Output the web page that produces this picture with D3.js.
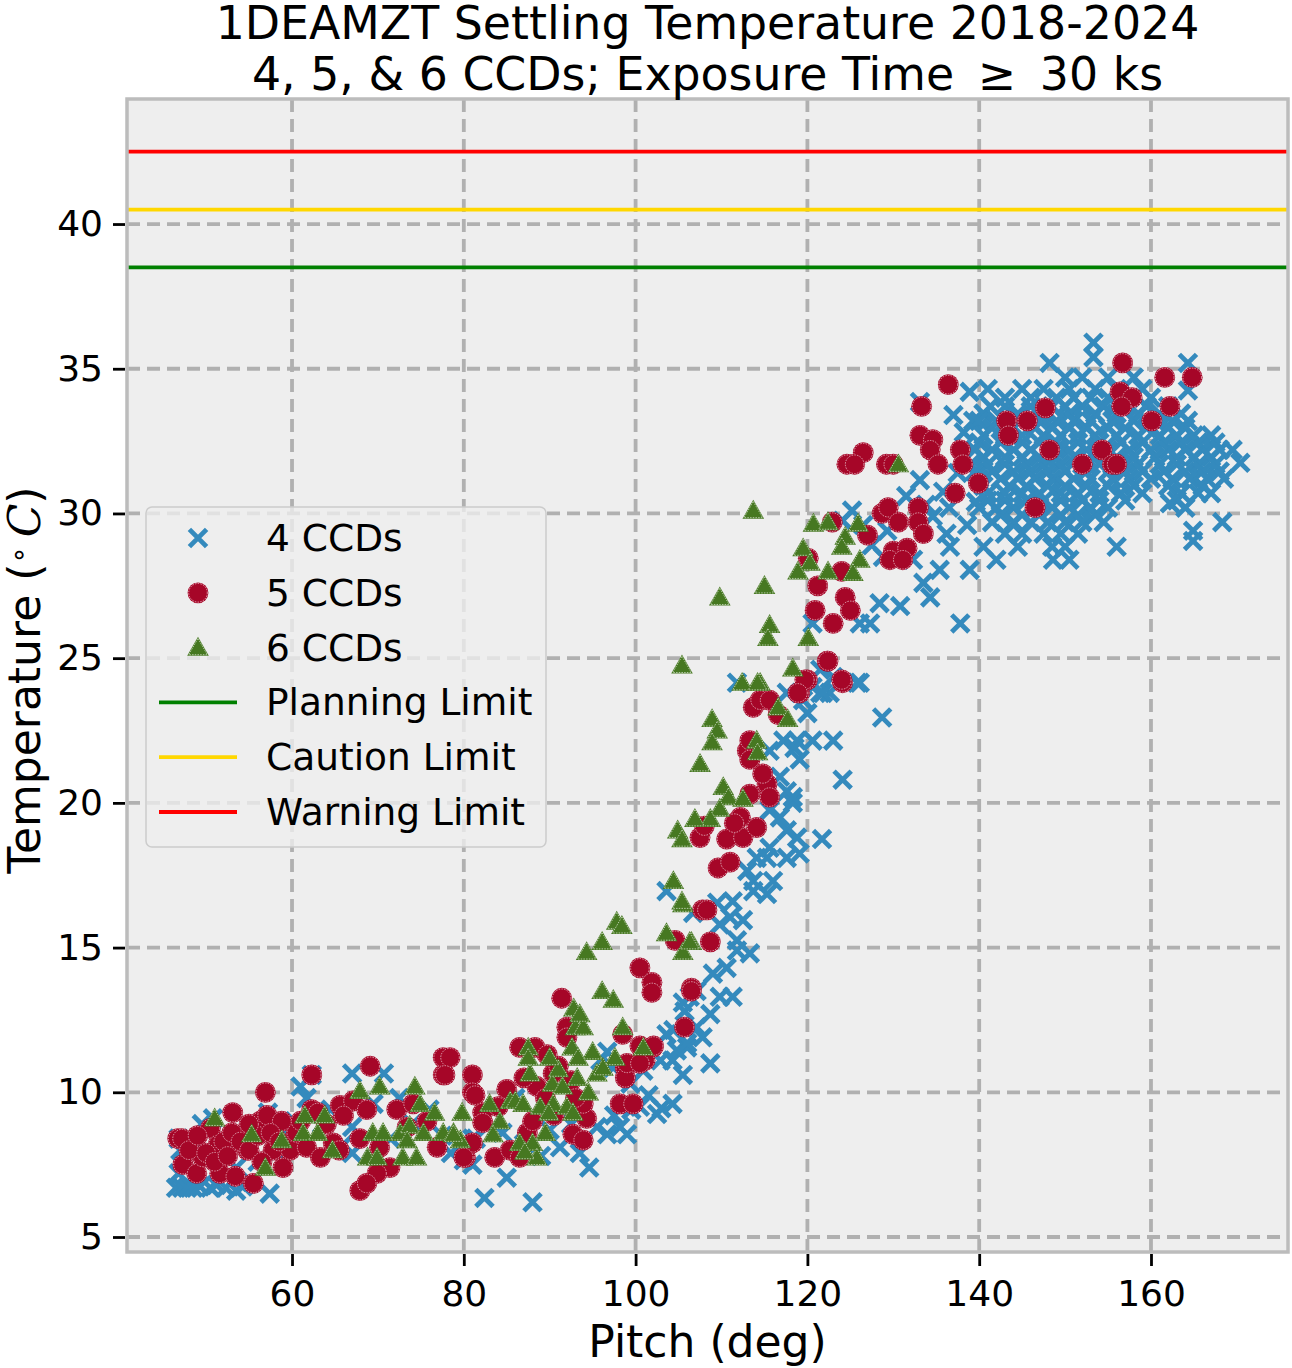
<!DOCTYPE html>
<html><head><meta charset="utf-8">
<script src="https://cdn.jsdelivr.net/npm/d3@7"></script>
<style>body{margin:0;background:#fff}svg{display:block}text{font-family:"DejaVu Sans",sans-serif}</style>
</head><body><svg id="c" width="1292" height="1368"></svg>
<script>
const titleLines = ["1DEAMZT Settling Temperature 2018-2024", "4, 5, & 6 CCDs; Exposure Time \u2009\u2265\u2009 30 ks"];
const xTicks = [60, 80, 100, 120, 140, 160];
const yTicks = [5, 10, 15, 20, 25, 30, 35, 40];
const limitNames = ["Planning Limit", "Caution Limit", "Warning Limit"];
const limitValues = [38.5, 40.5, 42.5];
const seriesNames = ["4 CCDs", "5 CCDs", "6 CCDs"];

const ccd4 = [
[46.5,6.7],[47.2,6.7],[47.8,6.7],[48.5,6.7],[49.3,6.75],[50.5,6.7],[51.2,6.8],[52.3,6.7],[53.5,6.6],[54.3,6.75],[55.3,6.9],[57.4,6.5],
[46.8,7.2],[47.5,7.6],[47,8.0],[46.8,8.4],[48.5,8.3],[50.8,9.1],[49.5,8.9],[52,8.1],[53.5,7.4],[56,7.6],[58.2,7.9],[59.5,8.5],[57.2,9.3],
[60.3,9.0],[61,10.2],[62.3,10.6],[61.7,9.8],[63.5,8.9],[64.5,9.4],[66,8.2],[67,8.8],[67,7.9],[67,10.65],[70.7,10.65],[69.5,9.6],[71.5,8.4],
[72.5,9.8],[74,8.9],[76,9.4],[77.5,8.5],[78.5,7.9],[80,7.65],[81,8.4],[81,7.5],[81.4,8.4],[82.4,6.35],[85,7.05],[88,6.2],[84.5,8.6],[86,9.8],
[87,8.2],[89,7.8],[90,8.7],[91.2,8.1],[92.5,8.9],[93.5,7.9],[94.6,7.4],[95.5,8.8],[96.7,8.55],[97.5,9.2],[98.2,8.8],[99,8.55],[99.5,9.4],
[100.5,9.5],[101.5,9.9],[102.5,9.25],[103,9.45],[104.3,9.6],[104.3,11.1],[105.5,10.6],[103.6,12.0],[106,11.55],[105.7,12.8],[106.3,13.3],
[96.7,11.4],[95.9,11.1],[97.4,10.85],[99.4,10.3],[100.9,10.75],[102.9,11.1],[104.8,11.45],[106,11.7],[107.8,11.9],[108.7,11.0],[107.1,12.25],
[104.4,12.15],[105.5,13.1],[108.7,12.7],[107.1,13.5],[109,14.1],[109.8,13.3],[111.3,13.3],[110.6,14.3],[111.8,14.9],[113.3,14.8],[111.8,15.25],
[109.8,15.8],[112.5,15.95],[111,16.05],[109.5,16.55],[111.3,16.6],[113.7,16.95],[115.3,16.85],[113.7,17.3],[116,17.3],[113,17.65],[114.1,18.1],
[115.3,18.1],[115.6,18.45],[117.6,18.1],[119.1,18.25],[117.6,19.05],[118.8,18.8],[121.7,18.75],[116.8,19.5],[115.6,19.75],[118.3,20.0],
[117.6,20.4],[118.3,20.2],[116.8,20.9],[117.2,22.15],[118.8,22.15],[118.5,21.9],[120.6,22.15],[123,22.15],[119.1,21.5],[115.6,21.8],[124.1,20.8],
[117.6,23.8],[119.5,23.55],[120.6,24.0],[121.5,23.8],[122.6,23.8],[120,23.1],[126.1,24.15],[111.8,24.15],[103.6,16.95],[106.7,16.2],[128.7,22.95],
[121.5,24.6],[123,24.35],[125.8,24.15],[121.8,23.8],[120.6,26.2],[126.1,26.2],[127.3,26.2],[128.4,26.9],[130.8,26.8],[133.5,27.6],[134.3,27.1],
[132.3,28.4],[135.4,28.05],[138.9,28.05],[137.8,26.2],[136.6,28.85],[136.2,29.3],[134.6,29.9],[129.3,29.4],[124.1,29.75],[133.1,31.15],
[135.8,30.75],[138.9,34.2],[139.3,33.2],[133.1,33.85],[126.5,29.6],[127.5,28.9],[128.8,28.5],[125.2,30.1],[131.5,30.6],[133.8,30.3],
[153.3,35.9],[153.3,35.4],[148.2,35.2],[164.3,35.2],
[150,34.7],[152,34.7],[155,34.7],[158,34.7],
[141,34.3],[145,34.3],[147.5,34.3],[150.5,34.3],[153.5,34.3],[156,34.3],[159,34.3],[164.3,34.25],
[143,34.0],[146,34.0],[149,34.0],[151,34.0],[153,34.0],[155,34.0],[157.5,34.0],[160,34.0],
[141.3,33.7],[143,33.7],[146,33.7],[148.5,33.7],[150,33.7],[152,33.7],[154.5,33.7],[157,33.7],[159.5,33.7],[162,33.7],
[140.5,33.45],[144.5,33.45],[147.5,33.45],[150.5,33.45],[153.5,33.45],[156,33.45],[158.5,33.45],[161,33.45],[163.5,33.45],
[140,33.2],[142,33.2],[144.5,33.2],[147,33.2],[149,33.2],[151,33.2],[153,33.2],[155.5,33.2],[158,33.2],[160.5,33.2],[162.5,33.2],[164.3,33.2],
[141.5,32.95],[144,32.95],[146.5,32.95],[148.5,32.95],[150.5,32.95],[152.5,32.95],[155,32.95],[157,32.95],[159.5,32.95],[162,32.95],[164,32.95],
[140.5,32.7],[143,32.7],[145,32.7],[147.5,32.7],[149.5,32.7],[151.5,32.7],[153.5,32.7],[156,32.7],[158.5,32.7],[161,32.7],[163,32.7],[165,32.7],[167,32.7],
[140,32.45],[142.5,32.45],[145,32.45],[147,32.45],[149,32.45],[151.5,32.45],[154,32.45],[156.5,32.45],[159,32.45],[161.5,32.45],[163.5,32.45],[165.5,32.45],[167.5,32.45],
[139.5,32.2],[141.5,32.2],[144,32.2],[146,32.2],[148,32.2],[150.5,32.2],[152.5,32.2],[155,32.2],[157.5,32.2],[160,32.2],[162,32.2],[164,32.2],[166,32.2],[168,32.2],[169.5,32.2],
[140.5,31.95],[143,31.95],[145,31.95],[147,31.95],[149,31.95],[151,31.95],[153.5,31.95],[156,31.95],[158,31.95],[160.5,31.95],[163,31.95],[165,31.95],[167,31.95],
[139,31.7],[141,31.7],[143,31.7],[145.5,31.7],[147.5,31.7],[149.5,31.7],[152,31.7],[154,31.7],[156.5,31.7],[158.5,31.7],[161,31.7],[163,31.7],[165.5,31.7],[167.5,31.7],[170.4,31.75],
[139.5,31.45],[141.5,31.45],[144,31.45],[146,31.45],[148,31.45],[150,31.45],[152.5,31.45],[155,31.45],[157,31.45],[159,31.45],[161.5,31.45],[164,31.45],[166,31.45],[168,31.45],
[140,31.2],[142.5,31.2],[144.5,31.2],[146.5,31.2],[148.5,31.2],[151,31.2],[153,31.2],[155.5,31.2],[157.5,31.2],[160,31.2],[162.5,31.2],[164.5,31.2],[166.5,31.2],[168.5,31.2],
[140.5,30.95],[143.5,30.95],[145.5,30.95],[148,30.95],[150,30.95],[152.5,30.95],[155,30.95],[158,30.95],[162,30.95],[166,30.95],
[141,30.7],[143,30.7],[145,30.7],[147,30.7],[149.5,30.7],[151.5,30.7],[154,30.7],[156.5,30.7],[159,30.7],[163.5,30.7],[165.5,30.7],[167,30.7],
[141,30.45],[143,30.45],[145.5,30.45],[147.5,30.45],[149.5,30.45],[152,30.45],[154,30.45],[157,30.45],[163,30.45],
[140,30.2],[142,30.2],[144,30.2],[146.5,30.2],[148.5,30.2],[150.5,30.2],[153,30.2],[155,30.2],[162.2,30.35],[164,30.2],
[142.5,29.95],[145,29.95],[147,29.95],[149.5,29.95],[151.5,29.95],[153.5,29.95],
[141.5,29.7],[144,29.7],[146,29.7],[148,29.7],[150,29.7],[152,29.7],[154.5,29.7],[168.3,29.7],
[143,29.3],[145,29.3],[147.5,29.3],[149.5,29.3],[151.5,29.3],[164.9,29.4],
[140.5,28.85],[144.5,28.85],[148.5,28.85],[150,28.85],[156,28.85],[142,28.4],[148.6,28.4],[150.5,28.4],[164.9,29.05],
[137.5,31.4],[136.5,30.2],[138.6,29.6],[139.6,30.4],[138.2,32.8],[137,33.4]
];

const ccd5 = [
[46.7,8.4],[47.2,8.4],[47.3,7.5],[48.9,7.2],[49.6,7.75],[50.5,8.75],[53.1,9.3],[51.4,8.2],[51.6,7.2],[53.4,7.1],[55.5,6.85],[54.8,8.0],
[56.3,9.0],[57.1,9.2],[58.8,9.0],[56.9,10.0],[58.95,7.4],[57.8,8.0],[59.8,8.0],[61.7,8.1],[63.3,7.75],[64.8,8.25],[62.3,10.6],[62.3,9.4],
[65.6,9.55],[67.1,9.7],[69.1,10.9],[68.7,9.4],[67.9,8.4],[70.2,8.1],[71.4,7.4],[69.9,7.2],[67.9,6.6],[68.7,6.85],[72.2,9.4],[74.1,9.6],
[73.4,8.8],[75.7,9.0],[76.9,8.1],[77.6,11.2],[77.6,10.6],[81,10.6],[81,10.0],[80.2,7.75],[81,8.25],
[48,8.0],[49,8.5],[50,7.9],[51,7.6],[52,8.3],[52.5,7.8],[53,8.6],[54,8.3],[55,8.0],[56,8.5],[55,8.9],[56.5,7.6],[57.5,8.6],[58.5,8.3],
[60.5,8.6],[61,9.0],[63,9.3],[64,8.9],[66,9.2],[65.5,8.0],
[78.4,11.2],[77.8,10.6],[81.3,9.9],[82.2,9.3],[82.2,8.95],[80,7.75],[83.6,7.75],[91.4,13.25],[86.5,11.55],[88.3,11.55],[89.7,11.3],[92,12.25],
[92,11.9],[90.4,10.65],[87.4,8.6],[85.4,8.0],[86.5,7.75],[92.7,8.55],[93.9,8.35],[94.3,9.1],[93.9,9.6],[98.5,12.0],[98.8,10.85],[98.8,10.5],
[98.2,9.6],[99.7,9.6],[100.5,11.6],[102,11.55],[101.1,11.1],[100.5,14.3],[101.9,13.8],[101.9,13.45],[104.6,15.25],[105.7,12.25],[106.5,13.6],
[107.8,16.3],[88.5,10.2],[89.5,9.8],[90.5,9.2],[91,10.9],[92.5,10.4],[93,9.8],[87,10.5],[88,9.0],[84,9.5],[85,10.1],
[106.5,13.5],[102.1,11.6],[99,11.0],[100.5,11.0],[108.7,15.2],[108.3,16.3],[109.6,17.75],[111,17.95],[107.5,18.8],[108,19.2],[110.6,18.75],
[112.5,18.8],[112.2,19.5],[114.1,19.15],[111.5,19.3],[113.3,20.3],[115.3,20.65],[115.6,20.2],[114.8,21.0],[113,21.8],[113.3,22.15],[113.3,21.5],
[113.7,23.3],[114.5,23.55],[115.6,23.55],[116.6,23.05],[119.1,23.8],[120,24.25],[122.3,24.9],[124.1,24.15],
[136.4,34.45],[133.3,33.7],[133.1,32.7],[134.6,32.55],[134.3,32.2],[135.2,31.7],[137.8,32.2],[138.1,31.7],[137.2,30.7],[126.5,32.1],[124.6,31.7],
[125.5,31.7],[129.2,31.7],[130,31.7],[128.7,30.0],[129.4,30.2],[130.6,29.7],[132.9,30.2],[132.9,29.7],[133.5,29.3],[127,29.25],[130,28.7],
[131.6,28.8],[129.6,28.4],[131.1,28.4],[122.9,29.7],[120.1,28.45],[124,28.0],[121.2,27.5],[124.4,27.1],[125,26.65],[120.9,26.65],[123,26.2],
[122.4,24.9],[119.7,24.25],[124,24.25],[118.9,23.8],
[143.2,33.2],[143.4,32.7],[145.6,33.2],[147.7,33.65],[139.9,31.05],[148.2,32.2],[152,31.7],[146.5,30.2],[154.3,32.2],[155.5,31.7],[156,31.7],
[156.7,35.2],[156.4,34.2],[157.8,34.0],[156.6,33.7],[160.1,33.2],[161.6,34.7],[164.8,34.7],[162.2,33.7]
];

const ccd6 = [
[51,9.1],[55.3,8.55],[58.8,8.35],[56.9,7.4],[61.5,9.2],[63.8,9.2],[61.3,8.6],[63,8.6],[64.7,8.0],[67.9,10.05],[70.2,10.2],[74.3,10.2],
[74.9,9.6],[76.6,9.3],[79.8,9.3],[69.4,8.6],[70.6,8.6],[72.6,8.6],[73.7,8.85],[75.3,8.6],[73.4,8.35],[77.6,8.6],[78.8,8.6],[79.6,8.35],
[68.8,7.75],[69.9,7.75],[72.9,7.75],[74.5,7.75],
[97.8,15.9],[96.1,15.2],[94.3,14.85],[96.1,13.5],[97.4,13.2],[103.6,15.5],[105.5,16.5],[106.5,15.2],[105.5,14.85],[98.5,12.25],[100.9,11.55],
[93,12.25],[93.9,12.25],[92.6,11.55],[93.3,11.2],[87.5,11.55],[87.5,11.2],[87.7,10.65],[90.3,10.3],[91.5,10.2],[93.2,10.5],[95.5,10.65],
[96.2,10.85],[97.6,11.2],[83,9.6],[84.2,9.0],[83.4,8.55],[85.4,9.7],[86,9.7],[86.9,9.6],[88.9,9.5],[90.4,9.6],[92,9.5],[92.7,9.3],[89.9,9.3],
[88,8.25],[88.5,7.75],[86.5,8.25],[87.1,7.95],[89.5,8.6],[78.8,8.55],[91,10.8],[90,11.2],[94.5,10.0],[95,11.4],[92.8,12.9],[93.5,12.7],
[105.4,24.75],[112.4,24.15],[114.5,24.15],[118.3,24.65],[116.6,23.3],[117.7,22.9],[108.9,22.9],[109.5,22.5],[108.9,22.1],[107.5,21.35],
[114.1,22.15],[114.2,21.75],[110.2,20.55],[110.8,20.2],[112.5,20.15],[109.8,19.8],[108.7,19.45],[106.9,19.45],[104.9,19.05],[105.4,18.75],
[104.4,17.3],[105.4,16.6],[106.3,15.2],[98.4,15.75],
[113.7,30.1],[120.7,29.65],[122.4,29.7],[125.9,29.65],[124.4,29.2],[124,28.85],[119.5,28.8],[120.3,28.3],[118.9,28.0],[126.1,28.4],[122.4,28.0],
[125.3,27.95],[130.6,31.7],[115,27.5],[109.8,27.1],[115.6,26.15],[115.4,25.7],[120.1,25.7],[114.2,24.15]
];

const colors = {c4:"#348ABD", c5:"#A60628", c6:"#467821", limits:["#008000","#FFD700","#FF0000"]};

const svg = d3.select("#c");
const L=127, R=1288, T=99, B=1252;
const x = d3.scaleLinear().domain([40.79, 175.95]).range([L, R]);
const y = d3.scaleLinear().domain([4.482, 44.32]).range([B, T]);

svg.append("rect").attr("x",L).attr("y",T).attr("width",R-L).attr("height",B-T).attr("fill","#eeeeee");

// grid
const grid = svg.append("g").attr("stroke","#b0b0b0").attr("stroke-width",3.8).attr("stroke-dasharray","13,7");
grid.selectAll("line.gx").data(xTicks).join("line").attr("x1",d=>x(d)).attr("x2",d=>x(d)).attr("y1",T).attr("y2",B);
grid.selectAll("line.gy").data(yTicks).join("line").attr("y1",d=>y(d)).attr("y2",d=>y(d)).attr("x1",L).attr("x2",R);

// limit lines
svg.append("g").selectAll("line").data(limitValues).join("line")
  .attr("x1",L).attr("x2",R).attr("y1",d=>y(d)).attr("y2",d=>y(d))
  .attr("stroke",(d,i)=>colors.limits[i]).attr("stroke-width",3.8);

// markers
function drawX(g, px, py){
  const s=8.6;
  g.append("path").attr("d",`M${px-s},${py-s}L${px+s},${py+s}M${px-s},${py+s}L${px+s},${py-s}`)
   .attr("stroke",colors.c4).attr("stroke-width",4.8).attr("fill","none");
}
function drawCircle(g, px, py){
  g.append("circle").attr("cx",px).attr("cy",py).attr("r",10.4).attr("fill",colors.c5);
  g.append("circle").attr("cx",px).attr("cy",py).attr("r",9.3).attr("fill","none")
   .attr("stroke","#ffffff").attr("stroke-opacity",0.75).attr("stroke-width",0.8).attr("stroke-dasharray","1.5,1.2");
}
function drawTri(g, px, py){
  const h=10.8, w=10.8;
  g.append("path").attr("d",`M${px},${py-h}L${px+w},${py+h*0.75}L${px-w},${py+h*0.75}Z`).attr("fill",colors.c6);
  const h2=h-1.7, w2=w-1.5;
  g.append("path").attr("d",`M${px},${py-h2}L${px+w2},${py+h*0.75-1}L${px-w2},${py+h*0.75-1}Z`).attr("fill","none")
   .attr("stroke","#ffffff").attr("stroke-opacity",0.75).attr("stroke-width",0.8).attr("stroke-dasharray","1.5,1.2");
}
const pts = svg.append("g");
const g4 = pts.append("g"), g5 = pts.append("g"), g6 = pts.append("g");
ccd4.forEach(d=>drawX(g4, x(d[0]), y(d[1])));
ccd5.forEach(d=>drawCircle(g5, x(d[0]), y(d[1])));
ccd6.forEach(d=>drawTri(g6, x(d[0]), y(d[1])));

// spines
svg.append("rect").attr("x",L).attr("y",T).attr("width",R-L).attr("height",B-T)
  .attr("fill","none").attr("stroke","#bcbcbc").attr("stroke-width",3.5);

// axes ticks
const xAxis = d3.axisBottom(x).tickValues(xTicks).tickSize(12).tickPadding(14).tickFormat(d3.format("d"));
const gx = svg.append("g").attr("transform",`translate(0,${B+2})`).call(xAxis);
gx.select(".domain").remove();
gx.selectAll(".tick line").attr("stroke","#000").attr("stroke-width",2.8);
gx.selectAll(".tick text").attr("font-size",36).attr("fill","#000").attr("font-family","DejaVu Sans");

const yAxis = d3.axisLeft(y).tickValues(yTicks).tickSize(12).tickPadding(10).tickFormat(d3.format("d"));
const gy = svg.append("g").attr("transform",`translate(${L-2},0)`).call(yAxis);
gy.select(".domain").remove();
gy.selectAll(".tick line").attr("stroke","#000").attr("stroke-width",2.8);
gy.selectAll(".tick text").attr("font-size",36).attr("fill","#000").attr("font-family","DejaVu Sans");

// axis labels
svg.append("text").attr("x",(L+R)/2).attr("y",1357).attr("text-anchor","middle").attr("font-size",44).text("Pitch (deg)");
const yl = svg.append("text").attr("transform","translate(40,680) rotate(-90)").attr("text-anchor","middle").attr("font-size",44);
yl.append("tspan").text("Temperature (");
yl.append("tspan").attr("dy",-12).attr("font-size",28).text("\u2218");
yl.append("tspan").attr("dy",12).text("\u2009");
yl.append("tspan").attr("font-style","italic").attr("font-family","DejaVu Serif").text("C");
yl.append("tspan").text(")");

// title
svg.selectAll("text.title").data(titleLines).join("text").attr("class","title")
  .attr("x",(L+R)/2).attr("y",(d,i)=>39+i*51).attr("text-anchor","middle").attr("font-size",45.8).text(d=>d);

// legend
const lg = svg.append("g");
lg.append("rect").attr("x",146).attr("y",507).attr("width",400).attr("height",340).attr("rx",6)
  .attr("fill","#eeeeee").attr("fill-opacity",0.8).attr("stroke","#cccccc").attr("stroke-width",1.5);
const rowY = i => 538 + i*54.8;
drawX(lg, 198, rowY(0));
drawCircle(lg, 198, rowY(1));
drawTri(lg, 198, rowY(2));
limitNames.forEach((n,i)=>{
  lg.append("line").attr("x1",159).attr("x2",237).attr("y1",rowY(3+i)).attr("y2",rowY(3+i))
    .attr("stroke",colors.limits[i]).attr("stroke-width",3.8);
});
seriesNames.concat(limitNames).forEach((n,i)=>{
  lg.append("text").attr("x",266).attr("y",rowY(i)+13).attr("font-size",37.5).text(n);
});
</script></body></html>
